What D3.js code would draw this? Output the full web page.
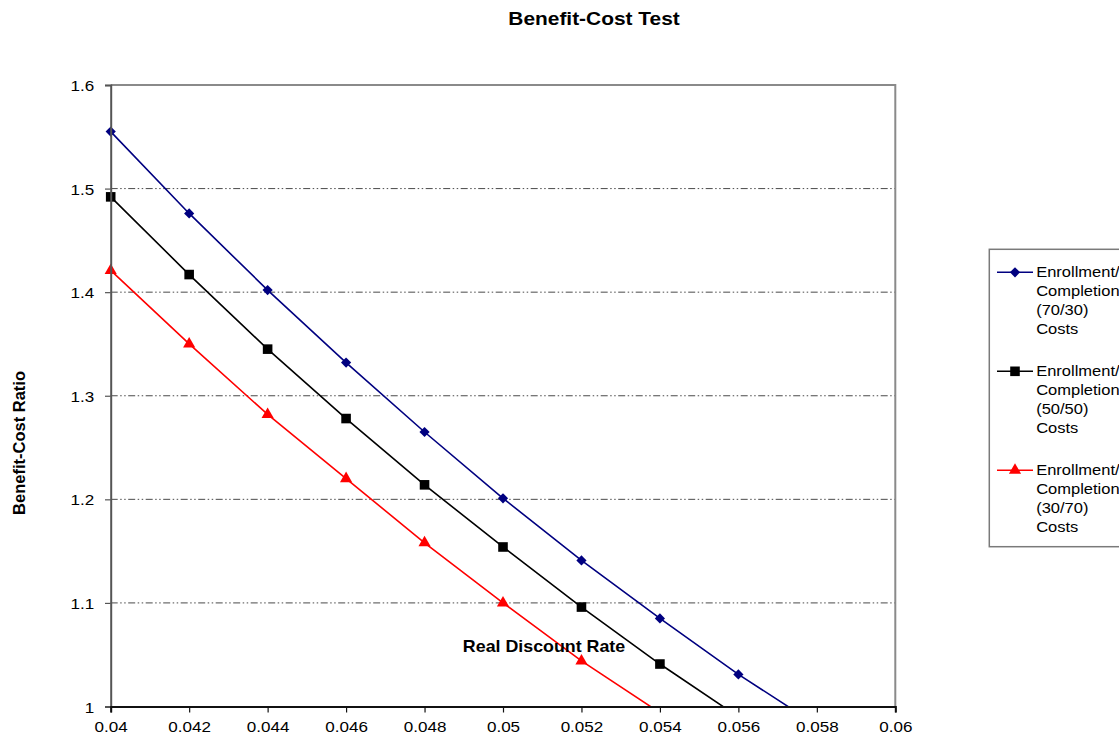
<!DOCTYPE html>
<html>
<head>
<meta charset="utf-8">
<script src="https://cdn.jsdelivr.net/npm/d3@7"></script>
<style>
  html, body { margin: 0; padding: 0; background: #fff; }
  svg { display: block; font-family: "Liberation Sans", Arial, sans-serif; }
</style>
</head>
<body>
<svg id="chart" width="1119" height="736"></svg>
<script>
// Real discount rates on the x axis
const rates = [0.040, 0.042, 0.044, 0.046, 0.048, 0.050, 0.052, 0.054, 0.056, 0.058];

// Benefit-cost ratios for each cost split (values below 1 fall under the axis and are clipped)
const ratio7030 = [1.555, 1.476, 1.402, 1.332, 1.265, 1.201, 1.141, 1.085, 1.031, 0.982];
const ratio5050 = [1.492, 1.417, 1.345, 1.278, 1.214, 1.154, 1.096, 1.041, 0.990];
const ratio3070 = [1.421, 1.350, 1.282, 1.220, 1.158, 1.100, 1.044, 0.994];

const seriesNames = [
  ["Enrollment/", "Completion", "(70/30)", "Costs"],
  ["Enrollment/", "Completion", "(50/50)", "Costs"],
  ["Enrollment/", "Completion", "(30/70)", "Costs"]
];

const xTicks = [0.04, 0.042, 0.044, 0.046, 0.048, 0.05, 0.052, 0.054, 0.056, 0.058, 0.06];
const yTicks = [1, 1.1, 1.2, 1.3, 1.4, 1.5, 1.6];

const chartTitle = "Benefit-Cost Test";
const xTitle = "Real Discount Rate";
const yTitle = "Benefit-Cost Ratio";

const svg = d3.select("#chart");
const plotLeft = 110.7, plotRight = 895.3, plotTop = 85, plotBottom = 706.5;
const STRETCH = 1.1;

const x = d3.scaleLinear().domain([0.04, 0.06]).range([plotLeft, plotRight]);
const y = d3.scaleLinear().domain([1.0, 1.6]).range([plotBottom, plotTop]);

const series = [
  { values: ratio7030, color: "#000080", marker: "diamond", names: seriesNames[0] },
  { values: ratio5050, color: "#000000", marker: "square", names: seriesNames[1] },
  { values: ratio3070, color: "#FF0000", marker: "triangle", names: seriesNames[2] }
];

// Text placed at (px, py), widened slightly
function wideText(parent, px, py, str, size, weight, anchor) {
  const g = parent.append("g").attr("transform", `translate(${px},${py})`);
  g.append("text")
    .attr("transform", `scale(${STRETCH},1)`)
    .attr("text-anchor", anchor || "start")
    .attr("font-size", size)
    .attr("font-weight", weight || "normal")
    .attr("fill", "#000")
    .text(str);
  return g;
}

// Horizontal gridlines (dash-dot-dot)
svg.append("g").selectAll("line")
  .data(yTicks.filter(d => d > 1 && d < 1.6))
  .join("line")
  .attr("x1", plotLeft).attr("x2", plotRight)
  .attr("y1", d => y(d)).attr("y2", d => y(d))
  .attr("stroke", "#4a4a4a")
  .attr("stroke-width", 1)
  .attr("stroke-dasharray", "7,2.5,1.5,2.5,1.5,2.5");

// Plot frame: top and right borders
svg.append("path")
  .attr("d", `M${plotLeft},${plotTop}H${plotRight}V${plotBottom}`)
  .attr("fill", "none")
  .attr("stroke", "#8a8a8a")
  .attr("stroke-width", 2);

// Clip for lines running below the axis minimum
svg.append("clipPath").attr("id", "plotClip")
  .append("rect")
  .attr("x", plotLeft).attr("y", plotTop)
  .attr("width", plotRight - plotLeft).attr("height", plotBottom - plotTop);

const line = d3.line()
  .x((d, i) => x(rates[i]))
  .y(d => y(d));

const plot = svg.append("g").attr("clip-path", "url(#plotClip)");
series.forEach(s => {
  plot.append("path")
    .attr("d", line(s.values))
    .attr("fill", "none")
    .attr("stroke", s.color)
    .attr("stroke-width", 1.6);
});

const symbolPaths = {
  diamond: d3.symbol().type(d3.symbolSquare).size(52)(),
  square: d3.symbol().type(d3.symbolSquare).size(92)(),
  triangle: d3.symbol().type(d3.symbolTriangle).size(64)()
};

function drawMarker(parent, type, color, cx, cy) {
  return parent.append("path")
    .attr("d", symbolPaths[type])
    .attr("fill", color)
    .attr("transform", `translate(${cx},${cy})` + (type === "diamond" ? " rotate(45)" : ""));
}

series.forEach(s => {
  const g = svg.append("g");
  s.values.forEach((v, i) => {
    if (v >= 1.0) drawMarker(g, s.marker, s.color, x(rates[i]), y(v));
  });
});

// Y axis
const yAxis = svg.append("g")
  .attr("transform", `translate(${plotLeft},0)`)
  .call(d3.axisLeft(y).tickValues(yTicks).tickSize(5.7).tickPadding(0).tickFormat(d3.format("")));
yAxis.select(".domain").attr("stroke", "#555").attr("stroke-width", 2);
yAxis.selectAll(".tick line").attr("stroke", "#555").attr("stroke-width", 1.2);
yAxis.selectAll(".tick text")
  .attr("x", 0)
  .attr("dy", "0.36em")
  .attr("font-size", 15.5)
  .attr("fill", "#000")
  .attr("font-family", "'Liberation Sans', Arial, sans-serif")
  .attr("transform", `translate(-16.4,0) scale(${STRETCH},1)`);

// X axis
const xAxis = svg.append("g")
  .attr("transform", `translate(0,${plotBottom})`)
  .call(d3.axisBottom(x).tickValues(xTicks).tickSize(6).tickPadding(0).tickFormat(d3.format("")));
xAxis.select(".domain").attr("stroke", "#111").attr("stroke-width", 2);
xAxis.selectAll(".tick line").attr("stroke", "#111").attr("stroke-width", 1.2);
xAxis.selectAll(".tick text")
  .attr("y", 0)
  .attr("dy", "0.71em")
  .attr("font-size", 15.5)
  .attr("fill", "#000")
  .attr("font-family", "'Liberation Sans', Arial, sans-serif")
  .attr("transform", `translate(0,14.5) scale(${STRETCH},1)`);

// Titles
wideText(svg, 594, 25, chartTitle, 19, "bold", "middle");
wideText(svg, 544, 651.5, xTitle, 16.2, "bold", "middle");
svg.append("text")
  .attr("transform", "translate(25,443) rotate(-90)")
  .attr("text-anchor", "middle")
  .attr("font-size", 16.5)
  .attr("font-weight", "bold")
  .attr("fill", "#000")
  .text(yTitle);

// Legend
const legend = svg.append("g");
legend.append("rect")
  .attr("x", 989.3).attr("y", 249.3)
  .attr("width", 160).attr("height", 297.4)
  .attr("fill", "#fff")
  .attr("stroke", "#7a7a7a")
  .attr("stroke-width", 1.5);

series.forEach((s, k) => {
  const ly = 272.3 + k * 99;
  legend.append("line")
    .attr("x1", 997).attr("x2", 1033)
    .attr("y1", ly).attr("y2", ly)
    .attr("stroke", s.color).attr("stroke-width", 1.6);
  drawMarker(legend, s.marker, s.color, 1015, ly);
  s.names.forEach((t, r) => {
    wideText(legend, 1036.2, 277 + k * 99 + r * 19, t, 15, "normal", "start");
  });
});
</script>
</body>
</html>
